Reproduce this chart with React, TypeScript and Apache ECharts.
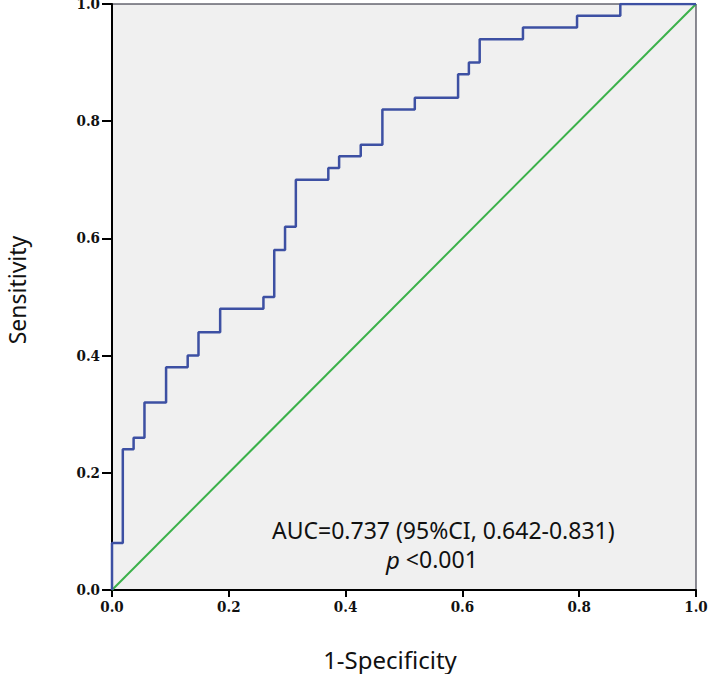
import React, { useEffect, useRef } from "react";
import * as echarts from "echarts";

// ROC curve corner points (1-Specificity, Sensitivity)
const fpr = [0, 0, 0.0185, 0.037, 0.0556, 0.0926, 0.1296, 0.1481, 0.1852, 0.2593, 0.2778, 0.2963, 0.3148, 0.3704, 0.3889, 0.4259, 0.463, 0.5185, 0.5926, 0.6111, 0.6296, 0.7037, 0.7963, 0.8704, 1.0];
const tpr = [0, 0.08, 0.24, 0.26, 0.32, 0.38, 0.40, 0.44, 0.48, 0.50, 0.58, 0.62, 0.70, 0.72, 0.74, 0.76, 0.82, 0.84, 0.88, 0.90, 0.94, 0.96, 0.98, 1.0, 1.0];
const refX = [0, 1];
const refY = [0, 1];
const ticks = [0, 0.2, 0.4, 0.6, 0.8, 1.0];
const xTitle = "1-Specificity";
const yTitle = "Sensitivity";
const aucText = "AUC=0.737 (95%CI, 0.642-0.831)";
const pText = "<0.001";

export default function App() {
  const ref = useRef<HTMLDivElement>(null);
  useEffect(() => {
    if (!ref.current) return;
    const chart = echarts.init(ref.current, null, { renderer: "svg" });
    const tickLabelStyle = {
      color: "#111",
      fontFamily: "'DejaVu Serif Condensed', 'Liberation Serif', serif",
      fontWeight: "bold" as const,
      fontSize: 15,
    };
    const titleFont = "'Noto Sans', 'DejaVu Sans', sans-serif";
    chart.setOption({
      animation: false,
      backgroundColor: "#ffffff",
      grid: {
        left: 112,
        top: 4,
        right: 13,
        bottom: 84,
        outerBoundsMode: "none",
        containLabel: false,
        show: true,
        backgroundColor: "#f0f0f0",
        borderColor: "#1a1a2a",
        borderWidth: 1,
      },
      xAxis: {
        type: "value",
        min: ticks[0],
        max: ticks[ticks.length - 1],
        interval: 0.2,
        name: xTitle,
        nameLocation: "middle",
        nameGap: 57,
        nameTextStyle: {
          fontFamily: titleFont,
          fontSize: 24,
          lineHeight: 24,
          color: "#111",
          padding: [0, 28, 0, 0],
        },
        axisLine: { show: true, lineStyle: { color: "#000", width: 2 } },
        axisTick: { show: true, inside: false, length: 7, lineStyle: { color: "#000", width: 2 } },
        axisLabel: { ...tickLabelStyle, margin: 9, formatter: (v: number) => v.toFixed(1) },
        splitLine: { show: false },
      },
      yAxis: {
        type: "value",
        min: ticks[0],
        max: ticks[ticks.length - 1],
        interval: 0.2,
        name: yTitle,
        nameLocation: "middle",
        nameGap: 84,
        nameRotate: 90,
        nameTextStyle: {
          fontFamily: titleFont,
          fontSize: 23,
          lineHeight: 23,
          color: "#111",
          padding: [0, 0, 0, 14],
        },
        axisLine: { show: true, lineStyle: { color: "#000", width: 2 } },
        axisTick: { show: true, inside: false, length: 10, lineStyle: { color: "#000", width: 2 } },
        axisLabel: { ...tickLabelStyle, lineHeight: 8, margin: 12, formatter: (v: number) => v.toFixed(1) },
        splitLine: { show: false },
      },
      graphic: [
        {
          type: "text",
          left: 272,
          top: 518,
          silent: true,
          style: {
            text: aucText,
            fontFamily: titleFont,
            fontSize: 23,
            lineHeight: 22,
            fill: "#111",
          },
        },
        {
          type: "text",
          left: 386,
          top: 547,
          silent: true,
          style: {
            text: "{i|p} " + pText,
            fontFamily: titleFont,
            fontSize: 23,
            lineHeight: 22,
            fill: "#111",
            rich: {
              i: { fontStyle: "italic", fontFamily: titleFont, fontSize: 24, lineHeight: 22, fill: "#111" },
            },
          },
        },
      ],
      series: [
        {
          type: "line",
          name: "Reference",
          data: refX.map((x, i) => [x, refY[i]]),
          showSymbol: false,
          symbol: "none",
          lineStyle: { color: "#3bb14a", width: 2 },
          z: 2,
        },
        {
          type: "line",
          name: "ROC",
          data: fpr.map((x, i) => [x, tpr[i]]),
          step: "end",
          showSymbol: false,
          symbol: "none",
          lineStyle: { color: "#3d50a3", width: 2.5 },
          z: 3,
        },
      ],
    });
    return () => chart.dispose();
  }, []);
  return (
    <div
      ref={ref}
      style={{ position: "absolute", left: 0, top: 0, width: 709, height: 674 }}
    />
  );
}
